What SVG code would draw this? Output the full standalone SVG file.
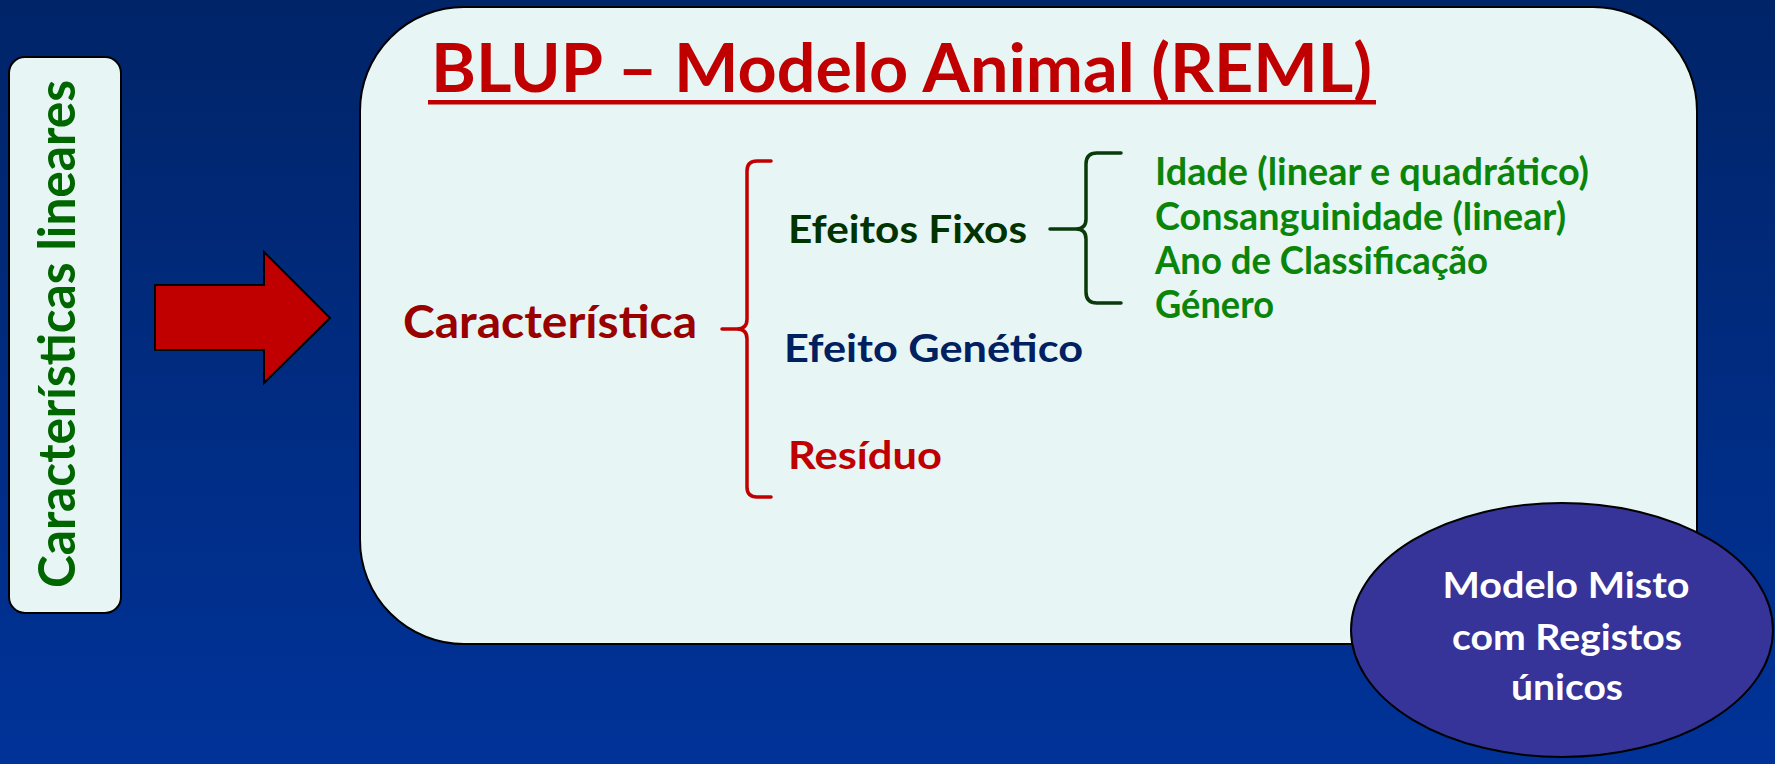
<svg xmlns="http://www.w3.org/2000/svg" width="1775" height="764" viewBox="0 0 1775 764">
<defs>
<linearGradient id="bg" x1="0" y1="0" x2="0" y2="1">
<stop offset="0" stop-color="#002468"/>
<stop offset="1" stop-color="#003399"/>
</linearGradient>
<style>
text{font-family:Lato,"Open Sans","Liberation Sans",sans-serif;font-weight:bold}
.box{fill:#E8F5F5;stroke:#000;stroke-width:2}
.brace{fill:none;stroke-width:3.5;stroke-linecap:round;stroke-linejoin:round}
.item{fill:#0A850A;font-size:38px}
.mid{font-size:39px}
.ell{fill:#fff;font-size:36px;text-anchor:middle}
</style>
</defs>
<rect x="0" y="0" width="1775" height="764" fill="url(#bg)"/>

<g id="left-box">
<rect class="box" x="9" y="57" width="112" height="556" rx="16" ry="16"/>
<text transform="translate(75,334) rotate(-90)" text-anchor="middle" font-size="51" fill="#006600" textLength="508" lengthAdjust="spacingAndGlyphs">Características lineares</text>
</g>

<g id="arrow">
<polygon points="155,285 264,285 264,252 330,318 264,383 264,350 155,350" fill="#C00000" stroke="#000" stroke-width="2" stroke-linejoin="miter"/>
</g>

<g id="main-box">
<rect class="box" x="360" y="7" width="1337" height="637" rx="104" ry="104"/>
<text x="431" y="92" font-size="67" fill="#C00000" textLength="941" lengthAdjust="spacingAndGlyphs">BLUP – Modelo Animal (REML)</text>
<rect x="428" y="100" width="948" height="4.5" fill="#C00000"/>
</g>

<g id="caracteristica">
<text x="403" y="338" font-size="45" fill="#990000" textLength="294" lengthAdjust="spacingAndGlyphs">Característica</text>
</g>

<g id="efeitos-fixos">
<text class="mid" x="788" y="243" fill="#003300" textLength="239" lengthAdjust="spacingAndGlyphs">Efeitos Fixos</text>
</g>
<g id="efeito-genetico">
<text class="mid" x="784" y="362" fill="#002060" textLength="299" lengthAdjust="spacingAndGlyphs">Efeito Genético</text>
</g>
<g id="residuo">
<text class="mid" x="788" y="469" fill="#C00000" textLength="154" lengthAdjust="spacingAndGlyphs">Resíduo</text>
</g>

<g id="fixed-effects-list">
<text class="item" x="1155" y="185" textLength="434" lengthAdjust="spacingAndGlyphs">Idade (linear e quadrático)</text>
<text class="item" x="1155" y="230" textLength="411" lengthAdjust="spacingAndGlyphs">Consanguinidade (linear)</text>
<text class="item" x="1155" y="274" textLength="333" lengthAdjust="spacingAndGlyphs">Ano de Classificação</text>
<text class="item" x="1155" y="318" textLength="119" lengthAdjust="spacingAndGlyphs">Género</text>
</g>

<g id="connectors">
<path class="brace" stroke="#C00000" d="M771,161 L757,161 Q747,161 747,171 L747,319 Q747,329 737,329 L722,329 M737,329 Q747,329 747,339 L747,487 Q747,497 757,497 L771,497"/>
<path class="brace" stroke="#0A3A0A" stroke-width="3" d="M1121,153 L1097,153 Q1086,153 1086,164 L1086,219 Q1086,229 1076,229 L1050,229 M1076,229 Q1086,229 1086,239 L1086,292 Q1086,303 1097,303 L1121,303"/>
</g>

<g id="modelo-misto">
<ellipse cx="1562" cy="630" rx="211" ry="127" fill="#363399" stroke="#000" stroke-width="2"/>
<text class="ell" x="1566" y="598" textLength="247" lengthAdjust="spacingAndGlyphs">Modelo Misto</text>
<text class="ell" x="1567" y="650" textLength="230" lengthAdjust="spacingAndGlyphs">com Registos</text>
<text class="ell" x="1567" y="700" textLength="112" lengthAdjust="spacingAndGlyphs">únicos</text>
</g>
</svg>
